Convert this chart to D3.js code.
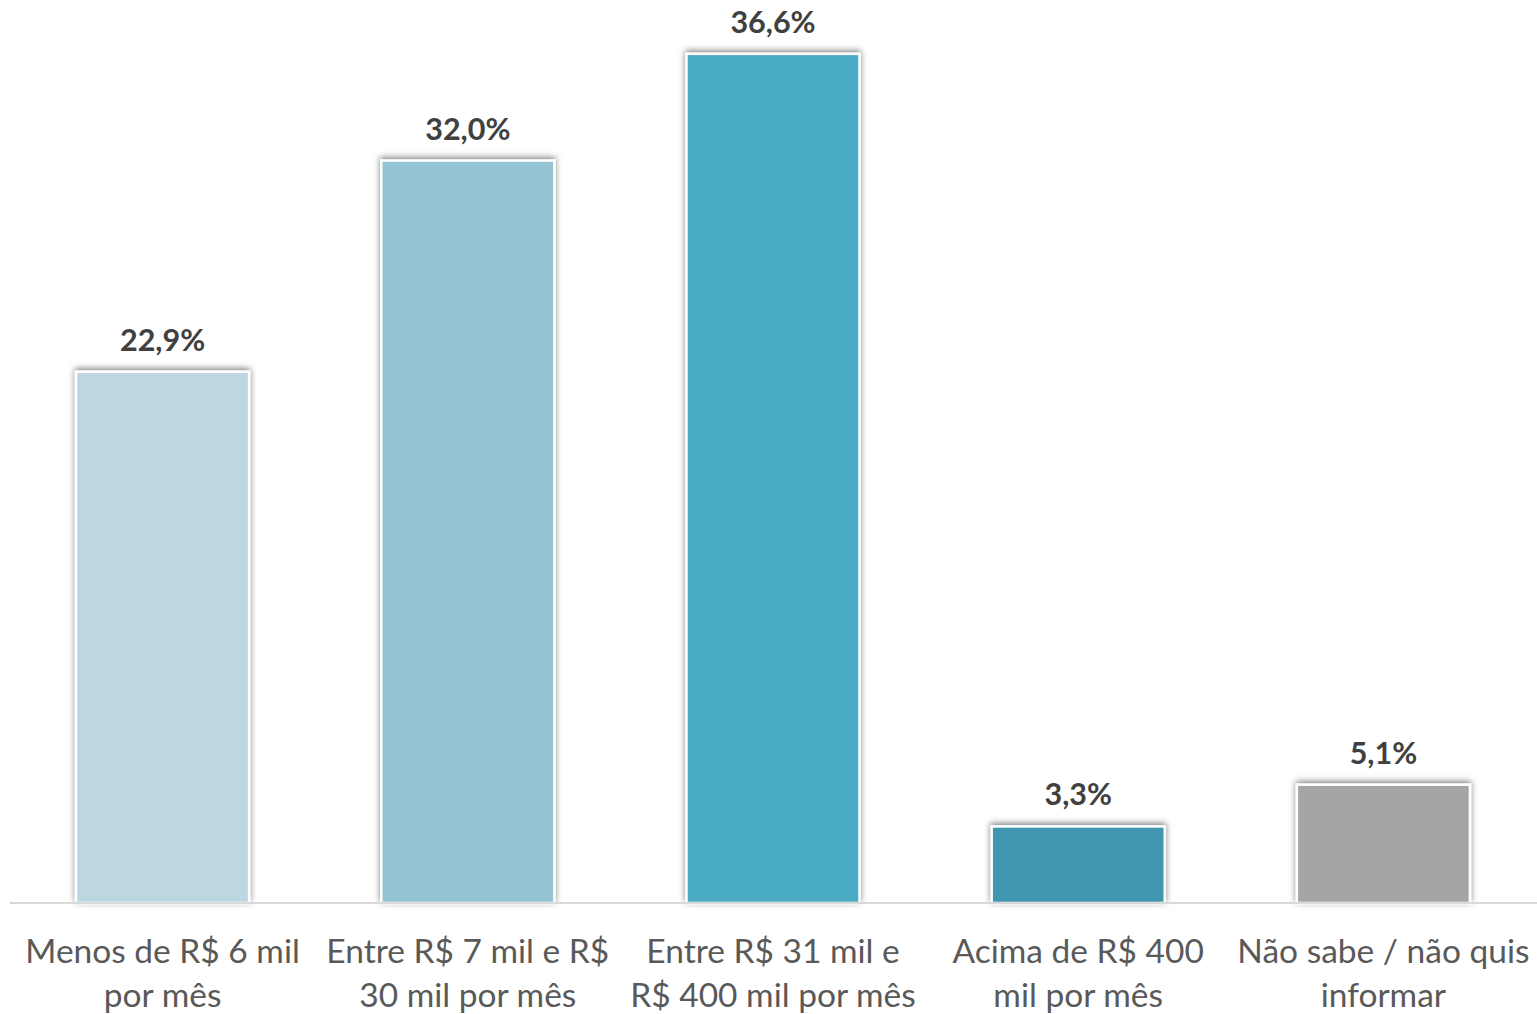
<!DOCTYPE html>
<html><head><meta charset="utf-8">
<script src="https://cdn.jsdelivr.net/npm/d3@7"></script>
<style>body{margin:0;background:#fff}svg{display:block}</style>
</head><body>
<script>
const categories = [["Menos de R$ 6 mil","por mês"],["Entre R$ 7 mil e R$","30 mil por mês"],["Entre R$ 31 mil e","R$ 400 mil por mês"],["Acima de R$ 400","mil por mês"],["Não sabe / não quis","informar"]];
const values = [22.9, 32.0, 36.6, 3.3, 5.1];
const labels = ["22,9%","32,0%","36,6%","3,3%","5,1%"];
const colors = ["#BDD7E2","#94C3D4","#4BACC6","#4397B0","#A5A5A5"];

const W = 1537, H = 1014;
const svg = d3.select("body").append("svg").attr("width", W).attr("height", H);
const defs = svg.append("defs");
const f = defs.append("filter").attr("id","sh").attr("x","-20%").attr("y","-20%").attr("width","140%").attr("height","140%");
f.append("feDropShadow").attr("dx",0).attr("dy",-2).attr("stdDeviation",3).attr("flood-color","#000").attr("flood-opacity",0.5);

const x = d3.scaleBand().domain(d3.range(values.length)).range([10, 1536]).paddingInner(0.433).paddingOuter(0.2165);
const y = d3.scaleLinear().domain([0, 40]).range([903, 903 - 40*23.2]);

svg.selectAll("rect.bar").data(values).join("rect").attr("class","bar")
  .attr("x",(d,i)=>x(i)).attr("width",x.bandwidth())
  .attr("y",d=>y(d)).attr("height",d=>y(0)-y(d))
  .attr("fill",(d,i)=>colors[i]).attr("stroke","#fff").attr("stroke-width",2.5)
  .attr("filter","url(#sh)");

svg.append("line").attr("x1",10).attr("x2",1537).attr("y1",903).attr("y2",903).attr("stroke","#D9D9D9").attr("stroke-width",2);

svg.selectAll("text.val").data(values).join("text").attr("class","val")
  .attr("x",(d,i)=>x(i)+x.bandwidth()/2).attr("y",d=>y(d)-21)
  .attr("text-anchor","middle").attr("font-family","Lato, 'Open Sans', sans-serif")
  .attr("font-weight","bold").attr("font-size",30.5).attr("fill","#404040")
  .text((d,i)=>labels[i]);

const cg = svg.selectAll("text.cat").data(categories).join("text").attr("class","cat")
  .attr("text-anchor","middle").attr("font-family","Lato, 'Open Sans', sans-serif")
  .attr("font-size",33.5).attr("fill","#595959");
cg.each(function(d,i){
  const t = d3.select(this);
  d.forEach((line,j)=>{
    t.append("tspan").attr("x", x(i)+x.bandwidth()/2).attr("y", 963 + j*44).text(line);
  });
});
</script>
</body></html>
